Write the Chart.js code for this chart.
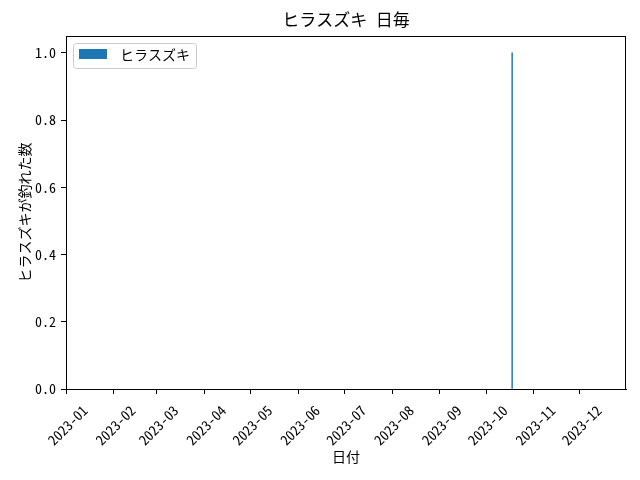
<!DOCTYPE html>
<html>
<head>
<meta charset="utf-8">
<script src="https://cdn.jsdelivr.net/npm/chart.js@4"></script>
<style>
  html, body { margin: 0; padding: 0; background: #fff; }
  #wrap { width: 640px; height: 480px; }
</style>
</head>
<body>
<div id="wrap"><canvas id="fishChart" width="640" height="480"></canvas></div>
<script>
// data
const dates      = ['2023-10-18'];
const counts     = [1];
const seriesName = 'ヒラスズキ';
const monthTicks = ['2023-01','2023-02','2023-03','2023-04','2023-05','2023-06',
                    '2023-07','2023-08','2023-09','2023-10','2023-11','2023-12'];
const yTicks     = [0, 0.2, 0.4, 0.6, 0.8, 1.0];
const xRange     = ['2023-01-01', '2023-12-31'];
const yRange     = [0, 1.05];

const FONT = "'Noto Sans Mono CJK JP', 'DejaVu Sans Mono', 'Noto Sans CJK JP', monospace";
const JP   = "'Noto Sans Mono CJK JP', 'Noto Sans CJK JP', sans-serif";

// dates -> day number from the start of the range
const day0 = Date.parse(xRange[0]);
const toDay = s => (Date.parse(s.length === 7 ? s + '-01' : s) - day0) / 86400000;

const points = dates.map((d, i) => ({ x: toDay(d), y: counts[i] }));

// frame, title and legend (matplotlib look)
const decor = {
  id: 'decor',
  afterDraw(chart) {
    const { ctx, chartArea: a } = chart;
    const ds = chart.data.datasets[0];
    ctx.save();
    ctx.strokeStyle = '#000';
    ctx.lineWidth = 1;
    ctx.strokeRect(a.left + 0.5, a.top + 0.5, a.right - a.left - 1, a.bottom - a.top);

    ctx.fillStyle = '#000';
    ctx.font = '17px ' + JP;
    ctx.textAlign = 'center';
    ctx.textBaseline = 'middle';
    ctx.fillText('ヒラスズキ 日毎', (a.left + a.right) / 2, 20);

    // legend box
    ctx.strokeStyle = '#cccccc';
    ctx.beginPath();
    ctx.roundRect(a.left + 7.5, a.top + 7.5, 123, 25, 3);
    ctx.stroke();
    ctx.fillStyle = ds.backgroundColor;
    ctx.fillRect(a.left + 13, a.top + 13, 28, 10);
    ctx.fillStyle = '#000';
    ctx.font = '14px ' + JP;
    ctx.textAlign = 'left';
    ctx.fillText(ds.label, a.left + 54, a.top + 18.5);
    ctx.restore();
  }
};

new Chart(document.getElementById('fishChart'), {
  type: 'bar',
  data: {
    datasets: [{
      label: seriesName,
      data: points,
      backgroundColor: '#1f77b4',
      borderWidth: 0,
      barThickness: 0.8
    }]
  },
  options: {
    responsive: false,
    animation: false,
    layout: { padding: { left: 0, right: 14, top: 36, bottom: 0 } },
    plugins: {
      title: { display: false },
      tooltip: { enabled: false },
      legend: { display: false }
    },
    scales: {
      x: {
        type: 'linear',
        min: toDay(xRange[0]),
        max: toDay(xRange[1]),
        offset: false,
        afterBuildTicks: s => { s.ticks = monthTicks.map(m => ({ value: toDay(m) })); },
        afterFit: s => { s.height = 91; },
        grid: { offset: false, drawOnChartArea: false, tickLength: 5, color: '#000', tickColor: '#000' },
        border: { color: '#000' },
        ticks: {
          autoSkip: false,
          minRotation: 45, maxRotation: 45,
          labelOffset: 19,
          padding: 8,
          color: '#000',
          font: { family: FONT, size: 14 },
          callback: (v, i) => monthTicks[i]
        },
        title: {
          display: true, text: '日付', color: '#000',
          font: { family: JP, size: 14 },
          padding: { top: 0, bottom: 15 }
        }
      },
      y: {
        min: yRange[0],
        max: yRange[1],
        afterBuildTicks: s => { s.ticks = yTicks.map(v => ({ value: v })); },
        afterFit: s => { s.width = 66; },
        grid: { drawOnChartArea: false, tickLength: 5, color: '#000', tickColor: '#000' },
        border: { color: '#000' },
        ticks: {
          padding: 5,
          color: '#000',
          font: { family: FONT, size: 14 },
          callback: v => v.toFixed(1)
        },
        title: {
          display: true, text: 'ヒラスズキが釣れた数', color: '#000',
          font: { family: JP, size: 14 },
          padding: { top: 16, bottom: 0 }
        }
      }
    }
  },
  plugins: [decor]
});
</script>
</body>
</html>
